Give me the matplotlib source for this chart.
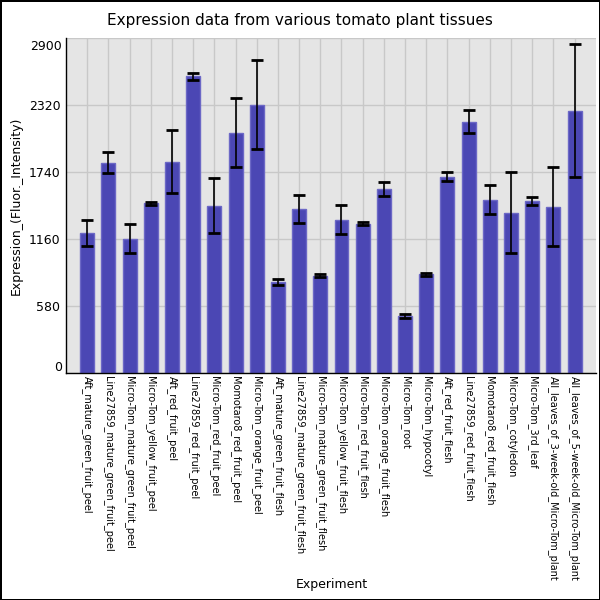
import numpy as np
import matplotlib
matplotlib.use("Agg")
import matplotlib.pyplot as plt
from matplotlib.transforms import ScaledTranslation

# tissue names (x categories)
tissues = [
    "Aft_mature_green_fruit_peel",
    "Line27859_mature_green_fruit_peel",
    "Micro-Tom_mature_green_fruit_peel",
    "Micro-Tom_yellow_fruit_peel",
    "Aft_red_fruit_peel",
    "Line27859_red_fruit_peel",
    "Micro-Tom_red_fruit_peel",
    "Momotaro8_red_fruit_peel",
    "Micro-Tom_orange_fruit_peel",
    "Aft_mature_green_fruit_flesh",
    "Line27859_mature_green_fruit_flesh",
    "Micro-Tom_mature_green_fruit_flesh",
    "Micro-Tom_yellow_fruit_flesh",
    "Micro-Tom_red_fruit_flesh",
    "Micro-Tom_orange_fruit_flesh",
    "Micro-Tom_root",
    "Micro-Tom_hypocotyl",
    "Aft_red_fruit_flesh",
    "Line27859_red_fruit_flesh",
    "Momotaro8_red_fruit_flesh",
    "Micro-Tom_cotyledon",
    "Micro-Tom_3rd_leaf",
    "All_leaves_of_3-week-old_Micro-Tom_plant",
    "All_leaves_of_5-week-old_Micro-Tom_plant",
]

# mean expression values
expression = [1215, 1821, 1163, 1469, 1830, 2566, 1449, 2081, 2323, 788,
              1423, 843, 1328, 1293, 1596, 496, 854, 1700, 2176, 1501,
              1388, 1489, 1440, 2271]

# standard deviation (error bar half length)
stdev = [112, 92, 125, 12, 270, 30, 236, 298, 383, 24,
         122, 12, 123, 14, 60, 19, 11, 39, 100, 122,
         352, 38, 339, 574]

yticks = [0, 580, 1160, 1740, 2320, 2900]

fig = plt.figure(figsize=(6, 6), dpi=100, edgecolor="black", linewidth=2)
ax = fig.add_axes([0.11, 0.378, 0.883, 0.559])
ax.set_facecolor("#e5e5e5")

x = np.arange(len(tissues))
ax.bar(x, expression, width=0.66, color="#4b47b4", edgecolor="#6c68c6",
       linewidth=1, zorder=2)
ax.errorbar(x, expression, yerr=stdev, fmt="none", ecolor="black",
            elinewidth=1.2, capsize=4.5, capthick=2, zorder=3)

ax.set_xlim(-1, len(tissues))
ax.set_ylim(0, 2900)
ax.set_yticks(yticks)
# end labels are pulled inside the axes in the original, so draw them by hand
ax.set_yticklabels([""] + [str(v) for v in yticks[1:-1]] + [""], fontsize=9)
shift = {yticks[0]: 0.06, yticks[-1]: -0.09}
for v, dy in shift.items():
    ax.text(0, v, str(v), fontsize=9, ha="right", va="center",
            transform=ax.get_yaxis_transform() + ScaledTranslation(-0.04, dy, fig.dpi_scale_trans))

ax.set_xticks(x)
ax.set_xticklabels(tissues, rotation=270, fontsize=7, ha="center", va="top")
ax.tick_params(axis="both", length=0, pad=4)
ax.tick_params(axis="x", pad=2)

ax.grid(True, color="#c8c8c8", linewidth=1, zorder=0)
ax.set_axisbelow(True)
for side in ["top", "right"]:
    ax.spines[side].set_visible(False)
ax.spines["left"].set_linewidth(1)
ax.spines["bottom"].set_linewidth(1)

fig.text(0.5, 0.966, "Expression data from various tomato plant tissues",
         ha="center", va="center", fontsize=11)
ax.set_ylabel("Expression_(Fluor._Intensity)", fontsize=9)
fig.text(0.553, 0.015, "Experiment", ha="center", va="bottom", fontsize=9)

fig.savefig("out.png", dpi=100, edgecolor=fig.get_edgecolor())
